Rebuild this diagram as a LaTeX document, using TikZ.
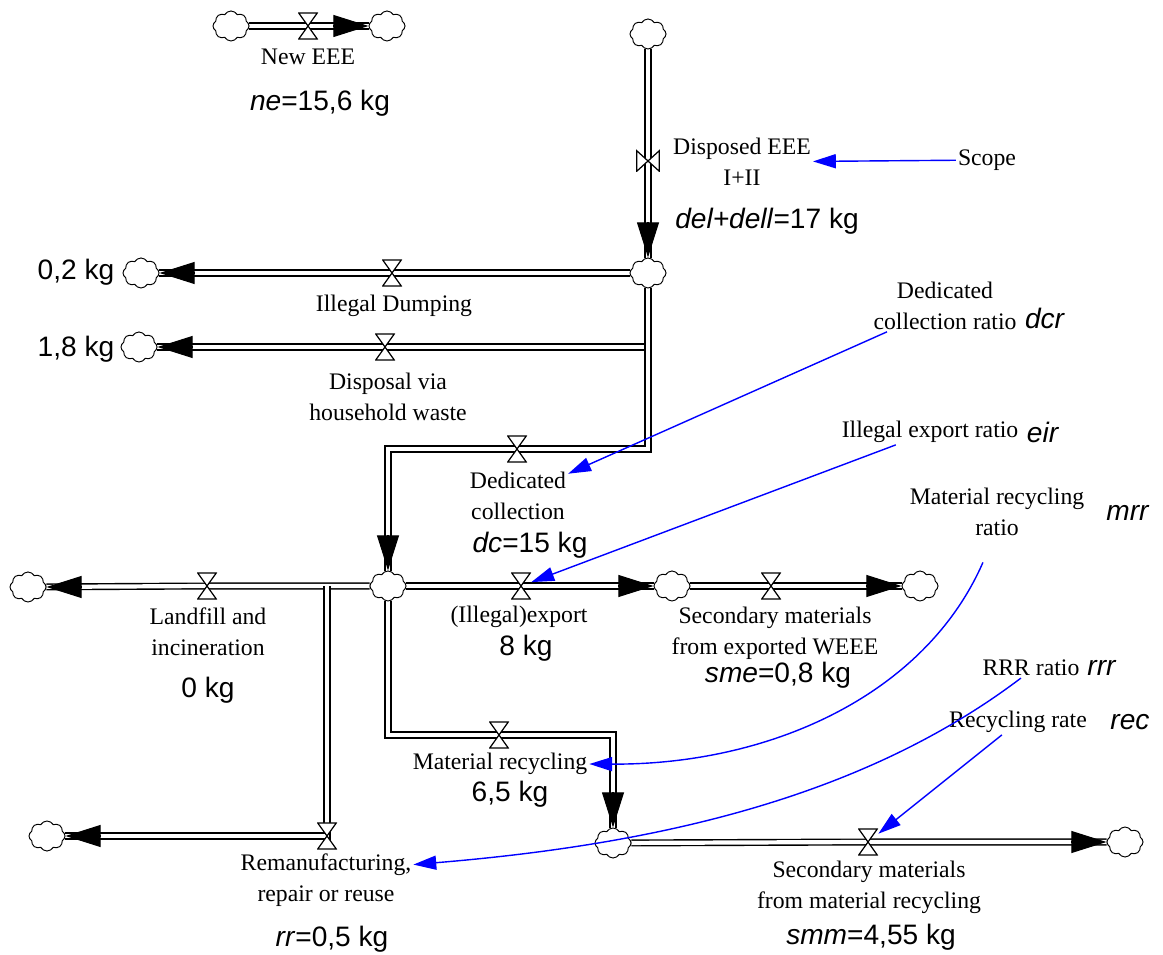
\documentclass[tikz,border=0pt]{standalone}
\usepackage{fontspec}
\setmainfont{Liberation Serif}
\newfontfamily\valfont{Liberation Sans}
\usepackage{tikz}
\usetikzlibrary{arrows.meta,shapes.symbols,backgrounds}

\begin{document}
\begin{tikzpicture}
		[
			x=0.02cm, y=-0.02cm,
			lbl/.style = {align=center, inner sep=1pt, font=\fontsize{13.5}{17.5}\selectfont},
			val/.style = {inner sep=1pt, font=\valfont\fontsize{16}{19}\selectfont},
			cloudy/.style = {cloud, cloud puffs=8, cloud puff arc=120, cloud ignores aspect, draw=black, fill=white, line width=0.55pt, minimum width=0.72cm, minimum height=0.6cm, inner sep=0pt},
			valve/.style = {minimum width=0.4cm, minimum height=0.55cm, inner sep=0pt, path picture={
				\draw[fill=white, line width=0.7pt]
					([xshift=0.4pt,yshift=-0.4pt]path picture bounding box.north west) --
					([xshift=-0.4pt,yshift=-0.4pt]path picture bounding box.north east) --
					([xshift=0.4pt,yshift=0.4pt]path picture bounding box.south west) --
					([xshift=-0.4pt,yshift=0.4pt]path picture bounding box.south east) -- cycle;}},
			svalve/.style = {minimum width=0.48cm, minimum height=0.44cm, inner sep=0pt, path picture={
				\draw[fill=white, line width=0.7pt]
					([xshift=0.4pt,yshift=-0.4pt]path picture bounding box.north west) --
					([xshift=0.4pt,yshift=0.4pt]path picture bounding box.south west) --
					([xshift=-0.4pt,yshift=-0.4pt]path picture bounding box.north east) --
					([xshift=-0.4pt,yshift=0.4pt]path picture bounding box.south east) -- cycle;}},
			pipe/.style = {double, double distance=2.4pt, line width=0.8pt},
			head/.style = {-{Triangle[length=20pt,width=12.5pt]}, line width=0.6pt},
			link/.style = {draw=blue, line width=0.8pt, -{Triangle[length=13pt,width=8pt]}},
		]

		\useasboundingbox (0,0) rectangle (1163,955);

		% sources and sinks
		\foreach \n/\x/\y in {cnew1/231/26, cnew2/387/26, ctop/648/34, cmid/648/273, cd1/141/273, cd2/139/347, chub/388/586, cland/28/587, crem/47/836, cexp/672/586, csme/920/586, cmr/613/843, csmm/1125/842}
		\node[cloudy] (\n) at (\x,\y) {};

		% valves
		\foreach \n/\x/\y in {vnew/308/26, vdump/392/273, vhh/385/347, vdc/517/449, vland/207/586, vexp/521/586, vsme/771/586, vmr/499/735, vrem/327/836, vsmm/868/842}
		\node[valve] (\n) at (\x,\y) {};
		\node[svalve] (vdisp) at (648,161) {};

		\coordinate (jhh) at (648,347);
		\coordinate (jrem) at (327,586);

		% flow names
		\node[lbl] (lnew) 	at ( 308,  57 ) {New EEE};
		\node[lbl] (ldisp) 	at ( 742, 162 ) {Disposed EEE\\I+II};
		\node[lbl] (ldump) 	at ( 394, 306 ) {Illegal Dumping};
		\node[lbl] (lhh) 	at ( 388, 397 ) {Disposal via\\household waste};
		\node[lbl] (ldc) 	at ( 518, 496 ) {Dedicated\\collection};
		\node[lbl] (lland) 	at ( 208, 632 ) {Landfill and\\incineration};
		\node[lbl] (lexp) 	at ( 519, 617 ) {(Illegal)export};
		\node[lbl] (lsme) 	at ( 775, 633 ) {Secondary materials\\from exported WEEE};
		\node[lbl] (lmr) 	at ( 500, 764 ) {Material recycling};
		\node[lbl] (lrem) 	at ( 326, 880 ) {Remanufacturing,\\repair or reuse};
		\node[lbl] (lsmm) 	at ( 869, 887 ) {Secondary materials\\from material recycling};

		% values
		\node[val] (tne) 	at ( 320, 103 ) {\textit{ne}=15,6 kg};
		\node[val] (tdel) 	at ( 767, 221 ) {\textit{del+dell}=17 kg};
		\node[val] (t02) 	at (  76, 272 ) {0,2 kg};
		\node[val] (t18) 	at (  76, 349 ) {1,8 kg};
		\node[val] (tdc) 	at ( 530, 545 ) {\textit{dc}=15 kg};
		\node[val] (texp) 	at ( 526, 648 ) {8 kg};
		\node[val] (tsme) 	at ( 778, 675 ) {\textit{sme}=0,8 kg};
		\node[val] (tland) 	at ( 208, 690 ) {0 kg};
		\node[val] (tmr) 	at ( 510, 794 ) {6,5 kg};
		\node[val] (trr) 	at ( 332, 939 ) {\textit{rr}=0,5 kg};
		\node[val] (tsmm) 	at ( 871, 937 ) {\textit{smm}=4,55 kg};

		% auxiliaries
		\node[lbl] (scope) 	at ( 987, 160 ) {Scope};
		\node[lbl] (dcr) 	at ( 945, 306 ) {Dedicated\\collection ratio};
		\node[lbl] (eir) 	at ( 930, 432 ) {Illegal export ratio};
		\node[lbl] (mrr) 	at ( 997, 512 ) {Material recycling\\ratio};
		\node[lbl] (rrr) 	at (1031, 668 ) {RRR ratio};
		\node[lbl] (rec) 	at (1018, 722 ) {Recycling rate};
		\node[val] (sdcr) 	at (1045, 318 ) {\textit{dcr}};
		\node[val] (seir) 	at (1043, 432 ) {\textit{eir}};
		\node[val] (smrr) 	at (1128, 513 ) {\textit{mrr}};
		\node[val] (srrr) 	at (1102, 668 ) {\textit{rrr}};
		\node[val] (srec) 	at (1130, 722 ) {\textit{rec}};

		% pipes
		\begin{scope}[on background layer]
		\foreach \a/\v/\b in {cnew1/vnew/cnew2, ctop/vdisp/cmid, cmid/vdump/cd1, chub/vland/cland, jrem/vrem/crem, chub/vexp/cexp, cexp/vsme/csme, cmr/vsmm/csmm, jhh/vhh/cd2}
		\draw[pipe] (\a) -- (\v.center) -- (\b);
		\draw[pipe] (cmid) |- (vdc.center) -| (chub);
		\draw[pipe] (chub) |- (vmr.center) -| (cmr);
		\end{scope}

		\draw[head] ([xshift=-20pt]cnew2.west) -- (cnew2.west);
		\draw[head] ([yshift=20pt]cmid.north) -- (cmid.north);
		\draw[head] ([xshift=20pt]cd1.east) -- (cd1.east);
		\draw[head] ([xshift=20pt]cd2.east) -- (cd2.east);
		\draw[head] ([yshift=20pt]chub.north) -- (chub.north);
		\draw[head] ([xshift=20pt]cland.east) -- (cland.east);
		\draw[head] ([xshift=20pt]crem.east) -- (crem.east);
		\draw[head] ([xshift=-20pt]cexp.west) -- (cexp.west);
		\draw[head] ([xshift=-20pt]csme.west) -- (csme.west);
		\draw[head] ([yshift=20pt]cmr.north) -- (cmr.north);
		\draw[head] ([xshift=-20pt]csmm.west) -- (csmm.west);

		% links
		\foreach \from/\to in {scope/ldisp, dcr/ldc, eir/vexp, rec/vsmm}
		\draw[link] (\from) -- (\to);
		\draw[link] ([xshift=-8pt,yshift=-14pt]mrr.south) .. controls (925,695) and (770,765) .. (lmr.east);
		\draw[link] (rrr.-135) .. controls (860,800) and (650,845) .. (lrem.10);

		\end{tikzpicture}
\end{document}
